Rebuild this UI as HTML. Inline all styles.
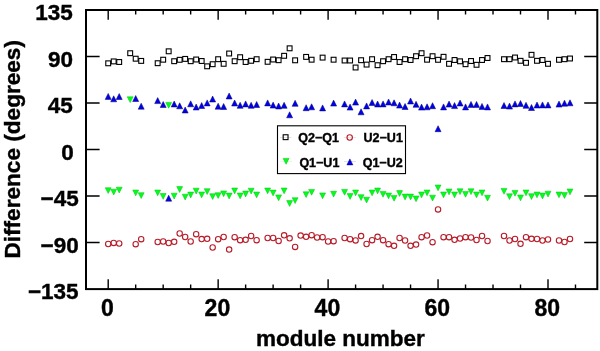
<!DOCTYPE html><html><head><meta charset="utf-8"><style>html,body{margin:0;padding:0;background:#fff;width:600px;height:351px;overflow:hidden}svg{display:block}text{font-family:"Liberation Sans",Arial,Helvetica,sans-serif;font-weight:bold;fill:#000;stroke:#000;stroke-width:0.4px}</style></head><body>
<svg width="600" height="351" viewBox="0 0 600 351">
<rect width="600" height="351" fill="#fff"/>
<path d="M108.20 289V279.3M108.20 10V19.7M135.69 289V284.4M135.69 10V14.6M163.18 289V284.4M163.18 10V14.6M190.66 289V284.4M190.66 10V14.6M218.15 289V279.3M218.15 10V19.7M245.64 289V284.4M245.64 10V14.6M273.12 289V284.4M273.12 10V14.6M300.61 289V284.4M300.61 10V14.6M328.10 289V279.3M328.10 10V19.7M355.59 289V284.4M355.59 10V14.6M383.07 289V284.4M383.07 10V14.6M410.56 289V284.4M410.56 10V14.6M438.05 289V279.3M438.05 10V19.7M465.54 289V284.4M465.54 10V14.6M493.02 289V284.4M493.02 10V14.6M520.51 289V284.4M520.51 10V14.6M548.00 289V279.3M548.00 10V19.7M575.49 289V284.4M575.49 10V14.6M86 242.50H99.6M597.3 242.50H584.2M86 196.00H99.6M597.3 196.00H584.2M86 149.50H99.6M597.3 149.50H584.2M86 103.00H99.6M597.3 103.00H584.2M86 56.50H99.6M597.3 56.50H584.2" stroke="#000" stroke-width="1.4" fill="none"/>
<rect x="86.0" y="10" width="511.3" height="279.1" fill="none" stroke="#000" stroke-width="2"/>
<text x="72.8" y="20.2" font-size="22.5" text-anchor="end">135</text>
<text x="73.0" y="66.7" font-size="22.5" text-anchor="end">90</text>
<text x="72.9" y="113.2" font-size="22.5" text-anchor="end">45</text>
<text x="73.7" y="159.7" font-size="22.5" text-anchor="end">0</text>
<text x="78.7" y="206.2" font-size="22.5" text-anchor="end">−45</text>
<text x="78.7" y="252.7" font-size="22.5" text-anchor="end">−90</text>
<text x="78.6" y="299.2" font-size="22.5" text-anchor="end">−135</text>
<text x="107.5" y="316" font-size="23" text-anchor="middle">0</text>
<text x="217.4" y="316" font-size="23" text-anchor="middle">20</text>
<text x="327.4" y="316" font-size="23" text-anchor="middle">40</text>
<text x="437.3" y="316" font-size="23" text-anchor="middle">60</text>
<text x="547.3" y="316" font-size="23" text-anchor="middle">80</text>
<text x="340.5" y="345.5" font-size="22.5" text-anchor="middle">module number</text>
<text transform="translate(19.7,149.3) rotate(-90)" font-size="22.6" text-anchor="middle">Difference (degrees)</text>
<rect x="105.78" y="60.88" width="4.85" height="4.85" fill="none" stroke="#000" stroke-width="1.1"/>
<rect x="111.27" y="58.98" width="4.85" height="4.85" fill="none" stroke="#000" stroke-width="1.1"/>
<rect x="116.77" y="59.58" width="4.85" height="4.85" fill="none" stroke="#000" stroke-width="1.1"/>
<rect x="127.77" y="50.78" width="4.85" height="4.85" fill="none" stroke="#000" stroke-width="1.1"/>
<rect x="133.26" y="56.28" width="4.85" height="4.85" fill="none" stroke="#000" stroke-width="1.1"/>
<rect x="138.76" y="58.48" width="4.85" height="4.85" fill="none" stroke="#000" stroke-width="1.1"/>
<rect x="155.25" y="60.78" width="4.85" height="4.85" fill="none" stroke="#000" stroke-width="1.1"/>
<rect x="160.75" y="57.28" width="4.85" height="4.85" fill="none" stroke="#000" stroke-width="1.1"/>
<rect x="166.25" y="48.88" width="4.85" height="4.85" fill="none" stroke="#000" stroke-width="1.1"/>
<rect x="171.75" y="58.78" width="4.85" height="4.85" fill="none" stroke="#000" stroke-width="1.1"/>
<rect x="177.24" y="57.38" width="4.85" height="4.85" fill="none" stroke="#000" stroke-width="1.1"/>
<rect x="182.74" y="56.48" width="4.85" height="4.85" fill="none" stroke="#000" stroke-width="1.1"/>
<rect x="188.24" y="58.78" width="4.85" height="4.85" fill="none" stroke="#000" stroke-width="1.1"/>
<rect x="193.73" y="57.08" width="4.85" height="4.85" fill="none" stroke="#000" stroke-width="1.1"/>
<rect x="199.23" y="58.58" width="4.85" height="4.85" fill="none" stroke="#000" stroke-width="1.1"/>
<rect x="204.73" y="63.88" width="4.85" height="4.85" fill="none" stroke="#000" stroke-width="1.1"/>
<rect x="210.23" y="61.78" width="4.85" height="4.85" fill="none" stroke="#000" stroke-width="1.1"/>
<rect x="215.72" y="56.78" width="4.85" height="4.85" fill="none" stroke="#000" stroke-width="1.1"/>
<rect x="221.22" y="61.38" width="4.85" height="4.85" fill="none" stroke="#000" stroke-width="1.1"/>
<rect x="226.72" y="51.08" width="4.85" height="4.85" fill="none" stroke="#000" stroke-width="1.1"/>
<rect x="232.22" y="58.78" width="4.85" height="4.85" fill="none" stroke="#000" stroke-width="1.1"/>
<rect x="237.71" y="54.78" width="4.85" height="4.85" fill="none" stroke="#000" stroke-width="1.1"/>
<rect x="243.21" y="59.58" width="4.85" height="4.85" fill="none" stroke="#000" stroke-width="1.1"/>
<rect x="248.71" y="58.38" width="4.85" height="4.85" fill="none" stroke="#000" stroke-width="1.1"/>
<rect x="254.21" y="56.78" width="4.85" height="4.85" fill="none" stroke="#000" stroke-width="1.1"/>
<rect x="265.20" y="59.38" width="4.85" height="4.85" fill="none" stroke="#000" stroke-width="1.1"/>
<rect x="270.70" y="57.08" width="4.85" height="4.85" fill="none" stroke="#000" stroke-width="1.1"/>
<rect x="276.20" y="57.78" width="4.85" height="4.85" fill="none" stroke="#000" stroke-width="1.1"/>
<rect x="281.69" y="53.38" width="4.85" height="4.85" fill="none" stroke="#000" stroke-width="1.1"/>
<rect x="287.19" y="45.88" width="4.85" height="4.85" fill="none" stroke="#000" stroke-width="1.1"/>
<rect x="292.69" y="57.88" width="4.85" height="4.85" fill="none" stroke="#000" stroke-width="1.1"/>
<rect x="303.69" y="54.48" width="4.85" height="4.85" fill="none" stroke="#000" stroke-width="1.1"/>
<rect x="309.18" y="57.28" width="4.85" height="4.85" fill="none" stroke="#000" stroke-width="1.1"/>
<rect x="320.18" y="55.18" width="4.85" height="4.85" fill="none" stroke="#000" stroke-width="1.1"/>
<rect x="331.17" y="57.28" width="4.85" height="4.85" fill="none" stroke="#000" stroke-width="1.1"/>
<rect x="342.17" y="58.08" width="4.85" height="4.85" fill="none" stroke="#000" stroke-width="1.1"/>
<rect x="347.66" y="58.08" width="4.85" height="4.85" fill="none" stroke="#000" stroke-width="1.1"/>
<rect x="353.16" y="65.08" width="4.85" height="4.85" fill="none" stroke="#000" stroke-width="1.1"/>
<rect x="358.66" y="57.78" width="4.85" height="4.85" fill="none" stroke="#000" stroke-width="1.1"/>
<rect x="364.16" y="62.17" width="4.85" height="4.85" fill="none" stroke="#000" stroke-width="1.1"/>
<rect x="369.65" y="56.78" width="4.85" height="4.85" fill="none" stroke="#000" stroke-width="1.1"/>
<rect x="375.15" y="62.78" width="4.85" height="4.85" fill="none" stroke="#000" stroke-width="1.1"/>
<rect x="380.65" y="58.78" width="4.85" height="4.85" fill="none" stroke="#000" stroke-width="1.1"/>
<rect x="386.15" y="56.78" width="4.85" height="4.85" fill="none" stroke="#000" stroke-width="1.1"/>
<rect x="391.64" y="54.58" width="4.85" height="4.85" fill="none" stroke="#000" stroke-width="1.1"/>
<rect x="397.14" y="59.58" width="4.85" height="4.85" fill="none" stroke="#000" stroke-width="1.1"/>
<rect x="402.64" y="56.78" width="4.85" height="4.85" fill="none" stroke="#000" stroke-width="1.1"/>
<rect x="408.14" y="57.58" width="4.85" height="4.85" fill="none" stroke="#000" stroke-width="1.1"/>
<rect x="413.63" y="53.78" width="4.85" height="4.85" fill="none" stroke="#000" stroke-width="1.1"/>
<rect x="419.13" y="50.78" width="4.85" height="4.85" fill="none" stroke="#000" stroke-width="1.1"/>
<rect x="424.63" y="57.28" width="4.85" height="4.85" fill="none" stroke="#000" stroke-width="1.1"/>
<rect x="430.13" y="53.78" width="4.85" height="4.85" fill="none" stroke="#000" stroke-width="1.1"/>
<rect x="435.62" y="57.38" width="4.85" height="4.85" fill="none" stroke="#000" stroke-width="1.1"/>
<rect x="441.12" y="54.38" width="4.85" height="4.85" fill="none" stroke="#000" stroke-width="1.1"/>
<rect x="446.62" y="61.38" width="4.85" height="4.85" fill="none" stroke="#000" stroke-width="1.1"/>
<rect x="452.12" y="57.58" width="4.85" height="4.85" fill="none" stroke="#000" stroke-width="1.1"/>
<rect x="457.61" y="58.88" width="4.85" height="4.85" fill="none" stroke="#000" stroke-width="1.1"/>
<rect x="463.11" y="61.78" width="4.85" height="4.85" fill="none" stroke="#000" stroke-width="1.1"/>
<rect x="468.61" y="58.58" width="4.85" height="4.85" fill="none" stroke="#000" stroke-width="1.1"/>
<rect x="474.11" y="62.38" width="4.85" height="4.85" fill="none" stroke="#000" stroke-width="1.1"/>
<rect x="479.60" y="57.58" width="4.85" height="4.85" fill="none" stroke="#000" stroke-width="1.1"/>
<rect x="485.10" y="55.58" width="4.85" height="4.85" fill="none" stroke="#000" stroke-width="1.1"/>
<rect x="501.59" y="56.78" width="4.85" height="4.85" fill="none" stroke="#000" stroke-width="1.1"/>
<rect x="507.09" y="56.78" width="4.85" height="4.85" fill="none" stroke="#000" stroke-width="1.1"/>
<rect x="512.59" y="55.08" width="4.85" height="4.85" fill="none" stroke="#000" stroke-width="1.1"/>
<rect x="518.09" y="58.38" width="4.85" height="4.85" fill="none" stroke="#000" stroke-width="1.1"/>
<rect x="523.59" y="60.38" width="4.85" height="4.85" fill="none" stroke="#000" stroke-width="1.1"/>
<rect x="529.08" y="52.38" width="4.85" height="4.85" fill="none" stroke="#000" stroke-width="1.1"/>
<rect x="534.58" y="58.38" width="4.85" height="4.85" fill="none" stroke="#000" stroke-width="1.1"/>
<rect x="540.08" y="57.58" width="4.85" height="4.85" fill="none" stroke="#000" stroke-width="1.1"/>
<rect x="545.58" y="61.38" width="4.85" height="4.85" fill="none" stroke="#000" stroke-width="1.1"/>
<rect x="556.57" y="57.38" width="4.85" height="4.85" fill="none" stroke="#000" stroke-width="1.1"/>
<rect x="562.07" y="56.78" width="4.85" height="4.85" fill="none" stroke="#000" stroke-width="1.1"/>
<rect x="567.57" y="56.08" width="4.85" height="4.85" fill="none" stroke="#000" stroke-width="1.1"/>
<circle cx="108.20" cy="244.00" r="2.7" fill="none" stroke="#b81c28" stroke-width="1.1"/>
<circle cx="113.70" cy="242.90" r="2.7" fill="none" stroke="#b81c28" stroke-width="1.1"/>
<circle cx="119.20" cy="243.50" r="2.7" fill="none" stroke="#b81c28" stroke-width="1.1"/>
<circle cx="135.69" cy="244.20" r="2.7" fill="none" stroke="#b81c28" stroke-width="1.1"/>
<circle cx="141.19" cy="239.20" r="2.7" fill="none" stroke="#b81c28" stroke-width="1.1"/>
<circle cx="157.68" cy="242.00" r="2.7" fill="none" stroke="#b81c28" stroke-width="1.1"/>
<circle cx="163.18" cy="241.50" r="2.7" fill="none" stroke="#b81c28" stroke-width="1.1"/>
<circle cx="168.67" cy="243.00" r="2.7" fill="none" stroke="#b81c28" stroke-width="1.1"/>
<circle cx="174.17" cy="241.80" r="2.7" fill="none" stroke="#b81c28" stroke-width="1.1"/>
<circle cx="179.67" cy="233.50" r="2.7" fill="none" stroke="#b81c28" stroke-width="1.1"/>
<circle cx="185.16" cy="237.00" r="2.7" fill="none" stroke="#b81c28" stroke-width="1.1"/>
<circle cx="190.66" cy="241.50" r="2.7" fill="none" stroke="#b81c28" stroke-width="1.1"/>
<circle cx="196.16" cy="234.20" r="2.7" fill="none" stroke="#b81c28" stroke-width="1.1"/>
<circle cx="201.66" cy="239.10" r="2.7" fill="none" stroke="#b81c28" stroke-width="1.1"/>
<circle cx="207.16" cy="238.80" r="2.7" fill="none" stroke="#b81c28" stroke-width="1.1"/>
<circle cx="212.65" cy="247.50" r="2.7" fill="none" stroke="#b81c28" stroke-width="1.1"/>
<circle cx="218.15" cy="239.20" r="2.7" fill="none" stroke="#b81c28" stroke-width="1.1"/>
<circle cx="223.65" cy="237.00" r="2.7" fill="none" stroke="#b81c28" stroke-width="1.1"/>
<circle cx="229.14" cy="249.60" r="2.7" fill="none" stroke="#b81c28" stroke-width="1.1"/>
<circle cx="234.64" cy="237.20" r="2.7" fill="none" stroke="#b81c28" stroke-width="1.1"/>
<circle cx="240.14" cy="240.20" r="2.7" fill="none" stroke="#b81c28" stroke-width="1.1"/>
<circle cx="245.64" cy="239.80" r="2.7" fill="none" stroke="#b81c28" stroke-width="1.1"/>
<circle cx="251.13" cy="236.00" r="2.7" fill="none" stroke="#b81c28" stroke-width="1.1"/>
<circle cx="256.63" cy="240.20" r="2.7" fill="none" stroke="#b81c28" stroke-width="1.1"/>
<circle cx="267.63" cy="238.00" r="2.7" fill="none" stroke="#b81c28" stroke-width="1.1"/>
<circle cx="273.12" cy="238.00" r="2.7" fill="none" stroke="#b81c28" stroke-width="1.1"/>
<circle cx="278.62" cy="241.00" r="2.7" fill="none" stroke="#b81c28" stroke-width="1.1"/>
<circle cx="284.12" cy="235.30" r="2.7" fill="none" stroke="#b81c28" stroke-width="1.1"/>
<circle cx="289.62" cy="238.30" r="2.7" fill="none" stroke="#b81c28" stroke-width="1.1"/>
<circle cx="295.12" cy="246.90" r="2.7" fill="none" stroke="#b81c28" stroke-width="1.1"/>
<circle cx="300.61" cy="235.60" r="2.7" fill="none" stroke="#b81c28" stroke-width="1.1"/>
<circle cx="306.11" cy="236.80" r="2.7" fill="none" stroke="#b81c28" stroke-width="1.1"/>
<circle cx="311.61" cy="235.20" r="2.7" fill="none" stroke="#b81c28" stroke-width="1.1"/>
<circle cx="317.10" cy="237.50" r="2.7" fill="none" stroke="#b81c28" stroke-width="1.1"/>
<circle cx="322.60" cy="237.20" r="2.7" fill="none" stroke="#b81c28" stroke-width="1.1"/>
<circle cx="328.10" cy="241.50" r="2.7" fill="none" stroke="#b81c28" stroke-width="1.1"/>
<circle cx="333.60" cy="241.20" r="2.7" fill="none" stroke="#b81c28" stroke-width="1.1"/>
<circle cx="344.59" cy="238.00" r="2.7" fill="none" stroke="#b81c28" stroke-width="1.1"/>
<circle cx="350.09" cy="239.20" r="2.7" fill="none" stroke="#b81c28" stroke-width="1.1"/>
<circle cx="355.59" cy="240.40" r="2.7" fill="none" stroke="#b81c28" stroke-width="1.1"/>
<circle cx="361.08" cy="236.10" r="2.7" fill="none" stroke="#b81c28" stroke-width="1.1"/>
<circle cx="366.58" cy="244.00" r="2.7" fill="none" stroke="#b81c28" stroke-width="1.1"/>
<circle cx="372.08" cy="240.20" r="2.7" fill="none" stroke="#b81c28" stroke-width="1.1"/>
<circle cx="377.58" cy="236.80" r="2.7" fill="none" stroke="#b81c28" stroke-width="1.1"/>
<circle cx="383.07" cy="240.20" r="2.7" fill="none" stroke="#b81c28" stroke-width="1.1"/>
<circle cx="388.57" cy="244.20" r="2.7" fill="none" stroke="#b81c28" stroke-width="1.1"/>
<circle cx="394.07" cy="245.80" r="2.7" fill="none" stroke="#b81c28" stroke-width="1.1"/>
<circle cx="399.57" cy="238.00" r="2.7" fill="none" stroke="#b81c28" stroke-width="1.1"/>
<circle cx="405.06" cy="240.50" r="2.7" fill="none" stroke="#b81c28" stroke-width="1.1"/>
<circle cx="410.56" cy="245.80" r="2.7" fill="none" stroke="#b81c28" stroke-width="1.1"/>
<circle cx="416.06" cy="244.60" r="2.7" fill="none" stroke="#b81c28" stroke-width="1.1"/>
<circle cx="421.56" cy="237.20" r="2.7" fill="none" stroke="#b81c28" stroke-width="1.1"/>
<circle cx="427.05" cy="235.50" r="2.7" fill="none" stroke="#b81c28" stroke-width="1.1"/>
<circle cx="432.55" cy="242.20" r="2.7" fill="none" stroke="#b81c28" stroke-width="1.1"/>
<circle cx="438.05" cy="209.40" r="2.7" fill="none" stroke="#b81c28" stroke-width="1.1"/>
<circle cx="443.55" cy="237.20" r="2.7" fill="none" stroke="#b81c28" stroke-width="1.1"/>
<circle cx="449.04" cy="237.20" r="2.7" fill="none" stroke="#b81c28" stroke-width="1.1"/>
<circle cx="454.54" cy="239.80" r="2.7" fill="none" stroke="#b81c28" stroke-width="1.1"/>
<circle cx="460.04" cy="238.50" r="2.7" fill="none" stroke="#b81c28" stroke-width="1.1"/>
<circle cx="465.54" cy="237.20" r="2.7" fill="none" stroke="#b81c28" stroke-width="1.1"/>
<circle cx="471.03" cy="237.50" r="2.7" fill="none" stroke="#b81c28" stroke-width="1.1"/>
<circle cx="476.53" cy="240.00" r="2.7" fill="none" stroke="#b81c28" stroke-width="1.1"/>
<circle cx="482.03" cy="236.00" r="2.7" fill="none" stroke="#b81c28" stroke-width="1.1"/>
<circle cx="487.53" cy="241.00" r="2.7" fill="none" stroke="#b81c28" stroke-width="1.1"/>
<circle cx="504.02" cy="236.00" r="2.7" fill="none" stroke="#b81c28" stroke-width="1.1"/>
<circle cx="509.52" cy="240.50" r="2.7" fill="none" stroke="#b81c28" stroke-width="1.1"/>
<circle cx="515.01" cy="239.00" r="2.7" fill="none" stroke="#b81c28" stroke-width="1.1"/>
<circle cx="520.51" cy="243.80" r="2.7" fill="none" stroke="#b81c28" stroke-width="1.1"/>
<circle cx="526.01" cy="237.20" r="2.7" fill="none" stroke="#b81c28" stroke-width="1.1"/>
<circle cx="531.51" cy="238.80" r="2.7" fill="none" stroke="#b81c28" stroke-width="1.1"/>
<circle cx="537.00" cy="239.00" r="2.7" fill="none" stroke="#b81c28" stroke-width="1.1"/>
<circle cx="542.50" cy="240.50" r="2.7" fill="none" stroke="#b81c28" stroke-width="1.1"/>
<circle cx="548.00" cy="239.50" r="2.7" fill="none" stroke="#b81c28" stroke-width="1.1"/>
<circle cx="559.00" cy="240.50" r="2.7" fill="none" stroke="#b81c28" stroke-width="1.1"/>
<circle cx="564.49" cy="242.00" r="2.7" fill="none" stroke="#b81c28" stroke-width="1.1"/>
<circle cx="569.99" cy="239.00" r="2.7" fill="none" stroke="#b81c28" stroke-width="1.1"/>
<path d="M108.20 193.50L111.15 187.70H105.25Z" fill="#00ff1a" stroke="#00c010" stroke-width="0.5"/>
<path d="M113.70 195.00L116.65 189.20H110.75Z" fill="#00ff1a" stroke="#00c010" stroke-width="0.5"/>
<path d="M119.20 193.00L122.15 187.20H116.25Z" fill="#00ff1a" stroke="#00c010" stroke-width="0.5"/>
<path d="M130.19 102.60L133.14 96.80H127.24Z" fill="#00ff1a" stroke="#00c010" stroke-width="0.5"/>
<path d="M135.69 195.80L138.64 190.00H132.74Z" fill="#00ff1a" stroke="#00c010" stroke-width="0.5"/>
<path d="M141.19 198.50L144.13 192.70H138.24Z" fill="#00ff1a" stroke="#00c010" stroke-width="0.5"/>
<path d="M157.68 195.80L160.63 190.00H154.73Z" fill="#00ff1a" stroke="#00c010" stroke-width="0.5"/>
<path d="M163.18 199.30L166.12 193.50H160.23Z" fill="#00ff1a" stroke="#00c010" stroke-width="0.5"/>
<path d="M168.67 108.20L171.62 102.40H165.72Z" fill="#00ff1a" stroke="#00c010" stroke-width="0.5"/>
<path d="M174.17 199.00L177.12 193.20H171.22Z" fill="#00ff1a" stroke="#00c010" stroke-width="0.5"/>
<path d="M179.67 192.40L182.62 186.60H176.72Z" fill="#00ff1a" stroke="#00c010" stroke-width="0.5"/>
<path d="M185.16 200.00L188.11 194.20H182.22Z" fill="#00ff1a" stroke="#00c010" stroke-width="0.5"/>
<path d="M190.66 197.90L193.61 192.10H187.71Z" fill="#00ff1a" stroke="#00c010" stroke-width="0.5"/>
<path d="M196.16 194.00L199.11 188.20H193.21Z" fill="#00ff1a" stroke="#00c010" stroke-width="0.5"/>
<path d="M201.66 197.80L204.61 192.00H198.71Z" fill="#00ff1a" stroke="#00c010" stroke-width="0.5"/>
<path d="M207.16 194.50L210.10 188.70H204.21Z" fill="#00ff1a" stroke="#00c010" stroke-width="0.5"/>
<path d="M212.65 199.50L215.60 193.70H209.70Z" fill="#00ff1a" stroke="#00c010" stroke-width="0.5"/>
<path d="M218.15 198.50L221.10 192.70H215.20Z" fill="#00ff1a" stroke="#00c010" stroke-width="0.5"/>
<path d="M223.65 196.70L226.60 190.90H220.70Z" fill="#00ff1a" stroke="#00c010" stroke-width="0.5"/>
<path d="M229.14 198.90L232.09 193.10H226.19Z" fill="#00ff1a" stroke="#00c010" stroke-width="0.5"/>
<path d="M234.64 193.80L237.59 188.00H231.69Z" fill="#00ff1a" stroke="#00c010" stroke-width="0.5"/>
<path d="M240.14 198.80L243.09 193.00H237.19Z" fill="#00ff1a" stroke="#00c010" stroke-width="0.5"/>
<path d="M245.64 196.90L248.59 191.10H242.69Z" fill="#00ff1a" stroke="#00c010" stroke-width="0.5"/>
<path d="M251.13 194.00L254.08 188.20H248.19Z" fill="#00ff1a" stroke="#00c010" stroke-width="0.5"/>
<path d="M256.63 197.80L259.58 192.00H253.68Z" fill="#00ff1a" stroke="#00c010" stroke-width="0.5"/>
<path d="M267.63 193.80L270.58 188.00H264.68Z" fill="#00ff1a" stroke="#00c010" stroke-width="0.5"/>
<path d="M273.12 195.90L276.07 190.10H270.18Z" fill="#00ff1a" stroke="#00c010" stroke-width="0.5"/>
<path d="M278.62 200.70L281.57 194.90H275.67Z" fill="#00ff1a" stroke="#00c010" stroke-width="0.5"/>
<path d="M284.12 193.80L287.07 188.00H281.17Z" fill="#00ff1a" stroke="#00c010" stroke-width="0.5"/>
<path d="M289.62 206.40L292.57 200.60H286.67Z" fill="#00ff1a" stroke="#00c010" stroke-width="0.5"/>
<path d="M295.12 203.50L298.06 197.70H292.17Z" fill="#00ff1a" stroke="#00c010" stroke-width="0.5"/>
<path d="M306.11 197.60L309.06 191.80H303.16Z" fill="#00ff1a" stroke="#00c010" stroke-width="0.5"/>
<path d="M311.61 195.20L314.56 189.40H308.66Z" fill="#00ff1a" stroke="#00c010" stroke-width="0.5"/>
<path d="M322.60 198.70L325.55 192.90H319.65Z" fill="#00ff1a" stroke="#00c010" stroke-width="0.5"/>
<path d="M333.60 197.10L336.55 191.30H330.65Z" fill="#00ff1a" stroke="#00c010" stroke-width="0.5"/>
<path d="M344.59 195.20L347.54 189.40H341.64Z" fill="#00ff1a" stroke="#00c010" stroke-width="0.5"/>
<path d="M350.09 199.40L353.04 193.60H347.14Z" fill="#00ff1a" stroke="#00c010" stroke-width="0.5"/>
<path d="M355.59 195.80L358.54 190.00H352.64Z" fill="#00ff1a" stroke="#00c010" stroke-width="0.5"/>
<path d="M361.08 200.50L364.03 194.70H358.13Z" fill="#00ff1a" stroke="#00c010" stroke-width="0.5"/>
<path d="M366.58 203.00L369.53 197.20H363.63Z" fill="#00ff1a" stroke="#00c010" stroke-width="0.5"/>
<path d="M372.08 195.80L375.03 190.00H369.13Z" fill="#00ff1a" stroke="#00c010" stroke-width="0.5"/>
<path d="M377.58 193.80L380.53 188.00H374.63Z" fill="#00ff1a" stroke="#00c010" stroke-width="0.5"/>
<path d="M383.07 197.20L386.02 191.40H380.12Z" fill="#00ff1a" stroke="#00c010" stroke-width="0.5"/>
<path d="M388.57 198.80L391.52 193.00H385.62Z" fill="#00ff1a" stroke="#00c010" stroke-width="0.5"/>
<path d="M394.07 201.20L397.02 195.40H391.12Z" fill="#00ff1a" stroke="#00c010" stroke-width="0.5"/>
<path d="M399.57 196.40L402.52 190.60H396.62Z" fill="#00ff1a" stroke="#00c010" stroke-width="0.5"/>
<path d="M405.06 199.90L408.01 194.10H402.11Z" fill="#00ff1a" stroke="#00c010" stroke-width="0.5"/>
<path d="M410.56 199.90L413.51 194.10H407.61Z" fill="#00ff1a" stroke="#00c010" stroke-width="0.5"/>
<path d="M416.06 201.80L419.01 196.00H413.11Z" fill="#00ff1a" stroke="#00c010" stroke-width="0.5"/>
<path d="M421.56 197.80L424.51 192.00H418.61Z" fill="#00ff1a" stroke="#00c010" stroke-width="0.5"/>
<path d="M427.05 195.80L430.00 190.00H424.10Z" fill="#00ff1a" stroke="#00c010" stroke-width="0.5"/>
<path d="M432.55 201.00L435.50 195.20H429.60Z" fill="#00ff1a" stroke="#00c010" stroke-width="0.5"/>
<path d="M438.05 190.80L441.00 185.00H435.10Z" fill="#00ff1a" stroke="#00c010" stroke-width="0.5"/>
<path d="M443.55 197.80L446.50 192.00H440.60Z" fill="#00ff1a" stroke="#00c010" stroke-width="0.5"/>
<path d="M449.04 194.80L451.99 189.00H446.09Z" fill="#00ff1a" stroke="#00c010" stroke-width="0.5"/>
<path d="M454.54 197.80L457.49 192.00H451.59Z" fill="#00ff1a" stroke="#00c010" stroke-width="0.5"/>
<path d="M460.04 194.60L462.99 188.80H457.09Z" fill="#00ff1a" stroke="#00c010" stroke-width="0.5"/>
<path d="M465.54 197.20L468.49 191.40H462.59Z" fill="#00ff1a" stroke="#00c010" stroke-width="0.5"/>
<path d="M471.03 194.60L473.98 188.80H468.08Z" fill="#00ff1a" stroke="#00c010" stroke-width="0.5"/>
<path d="M476.53 197.80L479.48 192.00H473.58Z" fill="#00ff1a" stroke="#00c010" stroke-width="0.5"/>
<path d="M482.03 195.80L484.98 190.00H479.08Z" fill="#00ff1a" stroke="#00c010" stroke-width="0.5"/>
<path d="M487.53 201.10L490.48 195.30H484.58Z" fill="#00ff1a" stroke="#00c010" stroke-width="0.5"/>
<path d="M504.02 194.20L506.97 188.40H501.07Z" fill="#00ff1a" stroke="#00c010" stroke-width="0.5"/>
<path d="M509.52 199.60L512.47 193.80H506.57Z" fill="#00ff1a" stroke="#00c010" stroke-width="0.5"/>
<path d="M515.01 196.20L517.97 190.40H512.06Z" fill="#00ff1a" stroke="#00c010" stroke-width="0.5"/>
<path d="M520.51 200.80L523.46 195.00H517.56Z" fill="#00ff1a" stroke="#00c010" stroke-width="0.5"/>
<path d="M526.01 195.80L528.96 190.00H523.06Z" fill="#00ff1a" stroke="#00c010" stroke-width="0.5"/>
<path d="M531.51 199.50L534.46 193.70H528.56Z" fill="#00ff1a" stroke="#00c010" stroke-width="0.5"/>
<path d="M537.00 197.80L539.96 192.00H534.05Z" fill="#00ff1a" stroke="#00c010" stroke-width="0.5"/>
<path d="M542.50 198.90L545.45 193.10H539.55Z" fill="#00ff1a" stroke="#00c010" stroke-width="0.5"/>
<path d="M548.00 197.00L550.95 191.20H545.05Z" fill="#00ff1a" stroke="#00c010" stroke-width="0.5"/>
<path d="M559.00 197.80L561.95 192.00H556.04Z" fill="#00ff1a" stroke="#00c010" stroke-width="0.5"/>
<path d="M564.49 198.40L567.44 192.60H561.54Z" fill="#00ff1a" stroke="#00c010" stroke-width="0.5"/>
<path d="M569.99 194.80L572.94 189.00H567.04Z" fill="#00ff1a" stroke="#00c010" stroke-width="0.5"/>
<path d="M108.20 93.40L111.20 99.40H105.20Z" fill="#0000ee" stroke="#00006a" stroke-width="0.5"/>
<path d="M113.70 95.80L116.70 101.80H110.70Z" fill="#0000ee" stroke="#00006a" stroke-width="0.5"/>
<path d="M119.20 93.50L122.20 99.50H116.20Z" fill="#0000ee" stroke="#00006a" stroke-width="0.5"/>
<path d="M135.69 95.50L138.69 101.50H132.69Z" fill="#0000ee" stroke="#00006a" stroke-width="0.5"/>
<path d="M141.19 103.20L144.19 109.20H138.19Z" fill="#0000ee" stroke="#00006a" stroke-width="0.5"/>
<path d="M157.68 97.60L160.68 103.60H154.68Z" fill="#0000ee" stroke="#00006a" stroke-width="0.5"/>
<path d="M163.18 101.50L166.18 107.50H160.18Z" fill="#0000ee" stroke="#00006a" stroke-width="0.5"/>
<path d="M168.67 195.20L171.67 201.20H165.67Z" fill="#0000ee" stroke="#00006a" stroke-width="0.5"/>
<path d="M174.17 101.00L177.17 107.00H171.17Z" fill="#0000ee" stroke="#00006a" stroke-width="0.5"/>
<path d="M179.67 102.80L182.67 108.80H176.67Z" fill="#0000ee" stroke="#00006a" stroke-width="0.5"/>
<path d="M185.16 107.00L188.16 113.00H182.16Z" fill="#0000ee" stroke="#00006a" stroke-width="0.5"/>
<path d="M190.66 100.80L193.66 106.80H187.66Z" fill="#0000ee" stroke="#00006a" stroke-width="0.5"/>
<path d="M196.16 104.00L199.16 110.00H193.16Z" fill="#0000ee" stroke="#00006a" stroke-width="0.5"/>
<path d="M201.66 102.50L204.66 108.50H198.66Z" fill="#0000ee" stroke="#00006a" stroke-width="0.5"/>
<path d="M207.16 99.90L210.16 105.90H204.16Z" fill="#0000ee" stroke="#00006a" stroke-width="0.5"/>
<path d="M212.65 96.00L215.65 102.00H209.65Z" fill="#0000ee" stroke="#00006a" stroke-width="0.5"/>
<path d="M218.15 103.20L221.15 109.20H215.15Z" fill="#0000ee" stroke="#00006a" stroke-width="0.5"/>
<path d="M223.65 103.50L226.65 109.50H220.65Z" fill="#0000ee" stroke="#00006a" stroke-width="0.5"/>
<path d="M229.14 93.00L232.14 99.00H226.14Z" fill="#0000ee" stroke="#00006a" stroke-width="0.5"/>
<path d="M234.64 100.00L237.64 106.00H231.64Z" fill="#0000ee" stroke="#00006a" stroke-width="0.5"/>
<path d="M240.14 102.30L243.14 108.30H237.14Z" fill="#0000ee" stroke="#00006a" stroke-width="0.5"/>
<path d="M245.64 100.90L248.64 106.90H242.64Z" fill="#0000ee" stroke="#00006a" stroke-width="0.5"/>
<path d="M251.13 102.30L254.13 108.30H248.13Z" fill="#0000ee" stroke="#00006a" stroke-width="0.5"/>
<path d="M256.63 101.50L259.63 107.50H253.63Z" fill="#0000ee" stroke="#00006a" stroke-width="0.5"/>
<path d="M267.63 99.90L270.63 105.90H264.63Z" fill="#0000ee" stroke="#00006a" stroke-width="0.5"/>
<path d="M273.12 102.10L276.12 108.10H270.12Z" fill="#0000ee" stroke="#00006a" stroke-width="0.5"/>
<path d="M278.62 103.00L281.62 109.00H275.62Z" fill="#0000ee" stroke="#00006a" stroke-width="0.5"/>
<path d="M284.12 102.30L287.12 108.30H281.12Z" fill="#0000ee" stroke="#00006a" stroke-width="0.5"/>
<path d="M289.62 111.80L292.62 117.80H286.62Z" fill="#0000ee" stroke="#00006a" stroke-width="0.5"/>
<path d="M295.12 100.30L298.12 106.30H292.12Z" fill="#0000ee" stroke="#00006a" stroke-width="0.5"/>
<path d="M306.11 104.70L309.11 110.70H303.11Z" fill="#0000ee" stroke="#00006a" stroke-width="0.5"/>
<path d="M311.61 103.80L314.61 109.80H308.61Z" fill="#0000ee" stroke="#00006a" stroke-width="0.5"/>
<path d="M322.60 104.90L325.60 110.90H319.60Z" fill="#0000ee" stroke="#00006a" stroke-width="0.5"/>
<path d="M333.60 100.10L336.60 106.10H330.60Z" fill="#0000ee" stroke="#00006a" stroke-width="0.5"/>
<path d="M344.59 100.90L347.59 106.90H341.59Z" fill="#0000ee" stroke="#00006a" stroke-width="0.5"/>
<path d="M350.09 104.10L353.09 110.10H347.09Z" fill="#0000ee" stroke="#00006a" stroke-width="0.5"/>
<path d="M355.59 99.10L358.59 105.10H352.59Z" fill="#0000ee" stroke="#00006a" stroke-width="0.5"/>
<path d="M361.08 108.80L364.08 114.80H358.08Z" fill="#0000ee" stroke="#00006a" stroke-width="0.5"/>
<path d="M366.58 102.90L369.58 108.90H363.58Z" fill="#0000ee" stroke="#00006a" stroke-width="0.5"/>
<path d="M372.08 99.50L375.08 105.50H369.08Z" fill="#0000ee" stroke="#00006a" stroke-width="0.5"/>
<path d="M377.58 101.00L380.58 107.00H374.58Z" fill="#0000ee" stroke="#00006a" stroke-width="0.5"/>
<path d="M383.07 100.90L386.07 106.90H380.07Z" fill="#0000ee" stroke="#00006a" stroke-width="0.5"/>
<path d="M388.57 99.00L391.57 105.00H385.57Z" fill="#0000ee" stroke="#00006a" stroke-width="0.5"/>
<path d="M394.07 99.80L397.07 105.80H391.07Z" fill="#0000ee" stroke="#00006a" stroke-width="0.5"/>
<path d="M399.57 102.10L402.57 108.10H396.57Z" fill="#0000ee" stroke="#00006a" stroke-width="0.5"/>
<path d="M405.06 103.50L408.06 109.50H402.06Z" fill="#0000ee" stroke="#00006a" stroke-width="0.5"/>
<path d="M410.56 98.00L413.56 104.00H407.56Z" fill="#0000ee" stroke="#00006a" stroke-width="0.5"/>
<path d="M416.06 101.30L419.06 107.30H413.06Z" fill="#0000ee" stroke="#00006a" stroke-width="0.5"/>
<path d="M421.56 104.10L424.56 110.10H418.56Z" fill="#0000ee" stroke="#00006a" stroke-width="0.5"/>
<path d="M427.05 103.80L430.05 109.80H424.05Z" fill="#0000ee" stroke="#00006a" stroke-width="0.5"/>
<path d="M432.55 102.70L435.55 108.70H429.55Z" fill="#0000ee" stroke="#00006a" stroke-width="0.5"/>
<path d="M438.05 125.70L441.05 131.70H435.05Z" fill="#0000ee" stroke="#00006a" stroke-width="0.5"/>
<path d="M443.55 103.90L446.55 109.90H440.55Z" fill="#0000ee" stroke="#00006a" stroke-width="0.5"/>
<path d="M449.04 101.10L452.04 107.10H446.04Z" fill="#0000ee" stroke="#00006a" stroke-width="0.5"/>
<path d="M454.54 102.60L457.54 108.60H451.54Z" fill="#0000ee" stroke="#00006a" stroke-width="0.5"/>
<path d="M460.04 100.00L463.04 106.00H457.04Z" fill="#0000ee" stroke="#00006a" stroke-width="0.5"/>
<path d="M465.54 103.90L468.54 109.90H462.54Z" fill="#0000ee" stroke="#00006a" stroke-width="0.5"/>
<path d="M471.03 101.40L474.03 107.40H468.03Z" fill="#0000ee" stroke="#00006a" stroke-width="0.5"/>
<path d="M476.53 101.40L479.53 107.40H473.53Z" fill="#0000ee" stroke="#00006a" stroke-width="0.5"/>
<path d="M482.03 103.40L485.03 109.40H479.03Z" fill="#0000ee" stroke="#00006a" stroke-width="0.5"/>
<path d="M487.53 103.90L490.53 109.90H484.53Z" fill="#0000ee" stroke="#00006a" stroke-width="0.5"/>
<path d="M504.02 102.50L507.02 108.50H501.02Z" fill="#0000ee" stroke="#00006a" stroke-width="0.5"/>
<path d="M509.52 103.10L512.52 109.10H506.52Z" fill="#0000ee" stroke="#00006a" stroke-width="0.5"/>
<path d="M515.01 100.90L518.01 106.90H512.01Z" fill="#0000ee" stroke="#00006a" stroke-width="0.5"/>
<path d="M520.51 100.50L523.51 106.50H517.51Z" fill="#0000ee" stroke="#00006a" stroke-width="0.5"/>
<path d="M526.01 102.30L529.01 108.30H523.01Z" fill="#0000ee" stroke="#00006a" stroke-width="0.5"/>
<path d="M531.51 104.50L534.51 110.50H528.51Z" fill="#0000ee" stroke="#00006a" stroke-width="0.5"/>
<path d="M537.00 102.00L540.00 108.00H534.00Z" fill="#0000ee" stroke="#00006a" stroke-width="0.5"/>
<path d="M542.50 101.90L545.50 107.90H539.50Z" fill="#0000ee" stroke="#00006a" stroke-width="0.5"/>
<path d="M548.00 101.90L551.00 107.90H545.00Z" fill="#0000ee" stroke="#00006a" stroke-width="0.5"/>
<path d="M559.00 101.10L562.00 107.10H556.00Z" fill="#0000ee" stroke="#00006a" stroke-width="0.5"/>
<path d="M564.49 100.20L567.49 106.20H561.49Z" fill="#0000ee" stroke="#00006a" stroke-width="0.5"/>
<path d="M569.99 99.80L572.99 105.80H566.99Z" fill="#0000ee" stroke="#00006a" stroke-width="0.5"/>
<rect x="277.5" y="125.8" width="128" height="47.8" fill="#fff" stroke="#000" stroke-width="1.1"/>
<path d="M280 137.5H291.5" stroke="#e2e2e2" stroke-width="1"/>
<path d="M344 137.5H356" stroke="#f6dede" stroke-width="1"/>
<path d="M280.5 161.5H292" stroke="#e4f8e4" stroke-width="1"/>
<path d="M344 161.5H356" stroke="#e0e0f8" stroke-width="1"/>
<rect x="283.18" y="134.77" width="4.85" height="4.85" fill="none" stroke="#000" stroke-width="1.1"/>
<circle cx="349.70" cy="137.50" r="2.7" fill="none" stroke="#b81c28" stroke-width="1.1"/>
<path d="M286.10 164.20L289.05 158.40H283.15Z" fill="#00ff1a" stroke="#00c010" stroke-width="0.5"/>
<path d="M349.90 158.90L352.90 164.90H346.90Z" fill="#0000ee" stroke="#00006a" stroke-width="0.5"/>
<text x="298.3" y="142.4" font-size="12.5">Q2−Q1</text>
<text x="363.6" y="142.4" font-size="12.5">U2−U1</text>
<text x="299.4" y="166.6" font-size="12.5">Q1−U1</text>
<text x="362.7" y="166.6" font-size="12.5">Q1−U2</text>
</svg></body></html>
